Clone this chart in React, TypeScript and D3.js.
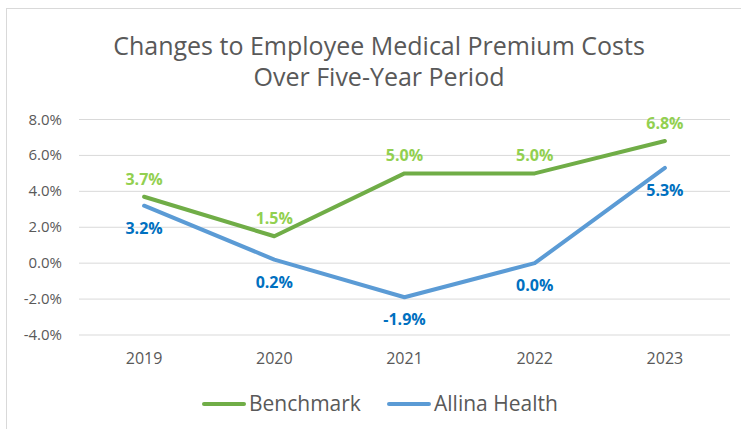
import React from "react";
import * as d3 from "d3";

const years = ["2019", "2020", "2021", "2022", "2023"];
const benchmark = [3.7, 1.5, 5.0, 5.0, 6.8];
const allina = [3.2, 0.2, -1.9, 0.0, 5.3];
const yTicks = [-4, -2, 0, 2, 4, 6, 8];
const seriesNames = ["Benchmark", "Allina Health"];
const titleLines = ["Changes to Employee Medical Premium Costs", "Over Five-Year Period"];

const W = 741;
const H = 429;
const FONT = "'Open Sans', 'Noto Sans', sans-serif";

export default function App() {
  const x = d3.scaleBand<string>().domain(years).range([79, 730]);
  const y = d3.scaleLinear().domain([-4, 8]).range([335, 119.5]);
  const cx = (d: string) => (x(d) as number) + x.bandwidth() / 2;
  const line = d3
    .line<number>()
    .x((_, i) => cx(years[i]))
    .y((v) => y(v));

  const fmt = (v: number) => v.toFixed(1) + "%";

  const series = [
    { name: seriesNames[0], data: benchmark, color: "#70AD47", label: "#92D050", above: true },
    { name: seriesNames[1], data: allina, color: "#5B9BD5", label: "#0070C0", above: false },
  ];

  return (
    <svg width={W} height={H} style={{ position: "absolute", left: 0, top: 0, background: "#fff" }}>
      <rect x={6.5} y={8.5} width={W + 10} height={H + 10} fill="#fff" stroke="#d9d9d9" />
      {titleLines.map((t, i) => (
        <text
          key={i}
          x={379}
          y={55 + i * 31}
          textAnchor="middle"
          fontFamily={FONT}
          fontSize={25}
          fill="#595959"
        >
          {t}
        </text>
      ))}
      {yTicks.map((t) => (
        <g key={t}>
          <line x1={79} x2={730} y1={y(t)} y2={y(t)} stroke="#d9d9d9" strokeWidth={1} />
          <text
            x={62}
            y={y(t) + 5}
            textAnchor="end"
            fontFamily={FONT}
            fontSize={15}
            fill="#595959"
          >
            {fmt(t)}
          </text>
        </g>
      ))}
      {years.map((yr) => (
        <text
          key={yr}
          x={cx(yr)}
          y={364}
          textAnchor="middle"
          fontFamily={FONT}
          fontSize={16}
          fill="#595959"
        >
          {yr}
        </text>
      ))}
      {series.map((s) => (
        <path
          key={s.name}
          d={line(s.data) as string}
          fill="none"
          stroke={s.color}
          strokeWidth={4}
          strokeLinejoin="round"
          strokeLinecap="round"
        />
      ))}
      {series.map((s) =>
        s.data.map((v, i) => (
          <text
            key={s.name + i}
            x={cx(years[i])}
            y={s.above ? y(v) - 12 : y(v) + 28}
            textAnchor="middle"
            fontFamily={FONT}
            fontSize={16}
            fontWeight={700}
            fill={s.label}
          >
            {fmt(v)}
          </text>
        ))
      )}
      {series.map((s, i) => {
        const lx = i === 0 ? 204 : 389;
        return (
          <g key={s.name}>
            <line x1={lx} x2={lx + 40} y1={404} y2={404} stroke={s.color} strokeWidth={4} strokeLinecap="round" />
            <text x={lx + 45} y={411} fontFamily={FONT} fontSize={21} fill="#595959">
              {s.name}
            </text>
          </g>
        );
      })}
    </svg>
  );
}
